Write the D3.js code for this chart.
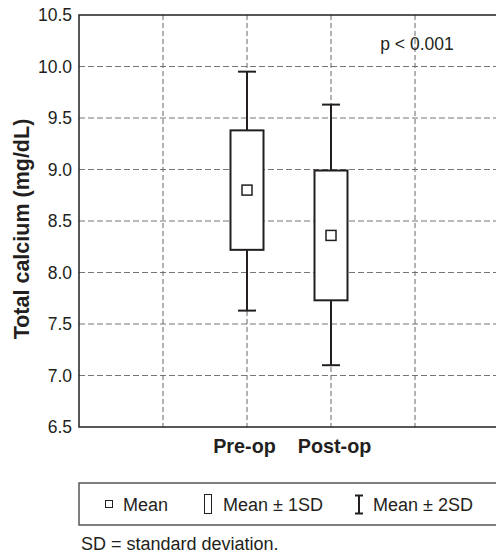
<!DOCTYPE html>
<html>
<head>
<meta charset="utf-8">
<title>Total calcium</title>
<script src="https://d3js.org/d3.v7.min.js"></script>
<style>
    body { margin: 0; background: #fff; }
    text { font-family: "Liberation Sans", Arial, sans-serif; fill: #231f20; }
</style>
</head>
<body>
<div id="chart"></div>
<script>
// data
var groups = ["Pre-op", "Post-op"];
var groupPos = [2, 3];
var means = [8.80, 8.36];
var sd1Low = [8.22, 7.73];
var sd1High = [9.38, 8.99];
var sd2Low = [7.63, 7.10];
var sd2High = [9.95, 9.63];
var yTicks = [6.5, 7.0, 7.5, 8.0, 8.5, 9.0, 9.5, 10.0, 10.5];
var xGrid = [1, 2, 3, 4];

var W = 496, H = 558;
var svg = d3.select("#chart").append("svg")
    .attr("width", W).attr("height", H);

var x = d3.scaleLinear().domain([0, 5]).range([79, 499]);
var y = d3.scaleLinear().domain([6.5, 10.5]).range([427, 15]);
var ink = "#231f20";

// grid
svg.append("g").selectAll("line").data(yTicks.slice(1, -1)).enter().append("line")
    .attr("x1", x(0)).attr("x2", W)
    .attr("y1", function (d) { return y(d); }).attr("y2", function (d) { return y(d); })
    .attr("stroke", "#777").attr("stroke-width", 1.2).attr("stroke-dasharray", "6,3");
svg.append("g").selectAll("line").data(xGrid).enter().append("line")
    .attr("x1", function (d) { return x(d); }).attr("x2", function (d) { return x(d); })
    .attr("y1", y(10.5)).attr("y2", y(6.5))
    .attr("stroke", "#666").attr("stroke-width", 1).attr("stroke-dasharray", "5,3");

// frame
svg.append("path")
    .attr("d", "M" + W + "," + y(10.5) + "H" + x(0) + "V" + y(6.5) + "H" + W)
    .attr("fill", "none").attr("stroke", ink).attr("stroke-width", 1.5);

// y axis labels
var yAxis = d3.axisLeft(y).tickValues(yTicks).tickSize(0).tickPadding(7)
    .tickFormat(d3.format(".1f"));
var ga = svg.append("g").attr("transform", "translate(" + x(0) + ",0)").call(yAxis);
ga.select(".domain").remove();
ga.selectAll("text").style("font-size", "17.5px").style("font-family", "Liberation Sans, Arial, sans-serif").attr("fill", ink);

svg.append("text")
    .attr("transform", "translate(29,229) rotate(-90)")
    .attr("text-anchor", "middle")
    .style("font-size", "21.5px").style("font-weight", "bold")
    .text("Total calcium (mg/dL)");

// whiskers (mean ± 2SD)
var g = svg.append("g");
var labelShift = [-2.5, 3.5];
groups.forEach(function (name, i) {
    var cx = x(groupPos[i]);
    g.append("line").attr("x1", cx).attr("x2", cx)
        .attr("y1", y(sd2High[i])).attr("y2", y(sd2Low[i]))
        .attr("stroke", ink).attr("stroke-width", 2);
    [sd2High[i], sd2Low[i]].forEach(function (v) {
        g.append("line").attr("x1", cx - 9).attr("x2", cx + 9)
            .attr("y1", y(v)).attr("y2", y(v))
            .attr("stroke", ink).attr("stroke-width", 2);
    });
    // box (mean ± 1SD)
    g.append("rect").attr("x", cx - 16.5).attr("width", 33)
        .attr("y", y(sd1High[i])).attr("height", y(sd1Low[i]) - y(sd1High[i]))
        .attr("fill", "#fff").attr("stroke", ink).attr("stroke-width", 2);
    // mean
    g.append("rect").attr("x", cx - 5).attr("y", y(means[i]) - 5)
        .attr("width", 10).attr("height", 10)
        .attr("fill", "#fff").attr("stroke", ink).attr("stroke-width", 1.5);
    // category label
    svg.append("text").attr("x", cx + labelShift[i]).attr("y", 453)
        .attr("text-anchor", "middle")
        .style("font-size", "19.8px").style("font-weight", "bold")
        .text(name);
});

svg.append("text").attr("x", 417).attr("y", 50)
    .attr("text-anchor", "middle").style("font-size", "17.5px")
    .text("p < 0.001");

// legend
var lg = svg.append("g");
lg.append("path").attr("d", "M" + W + ",483H" + x(0) + "V525H" + W)
    .attr("fill", "none").attr("stroke", "#555").attr("stroke-width", 1.5);
lg.append("rect").attr("x", 105.5).attr("y", 500.5).attr("width", 7).attr("height", 7)
    .attr("fill", "#fff").attr("stroke", ink).attr("stroke-width", 1);
lg.append("text").attr("x", 123).attr("y", 511).style("font-size", "18px").text("Mean");
lg.append("rect").attr("x", 204.5).attr("y", 494.5).attr("width", 7).attr("height", 19)
    .attr("fill", "#fff").attr("stroke", ink).attr("stroke-width", 1);
lg.append("text").attr("x", 223).attr("y", 511).style("font-size", "18px").text("Mean \u00b1 1SD");
lg.append("path").attr("d", "M355,495.5H363M359,495.5V513.5M355,513.5H363")
    .attr("fill", "none").attr("stroke", ink).attr("stroke-width", 2);
lg.append("text").attr("x", 373).attr("y", 511).style("font-size", "18px").text("Mean \u00b1 2SD");

svg.append("text").attr("x", 81).attr("y", 550).style("font-size", "18px")
    .text("SD = standard deviation.");
</script>
</body>
</html>
